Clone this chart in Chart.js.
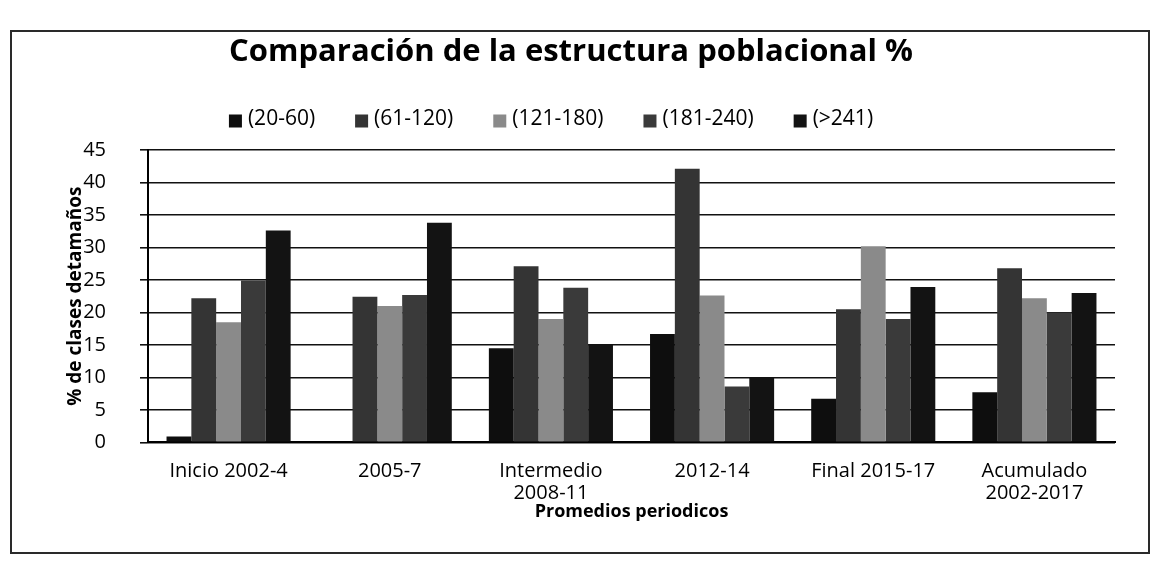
<!DOCTYPE html>
<html>
<head>
<meta charset="utf-8">
<script src="https://cdn.jsdelivr.net/npm/chart.js@4.4.0/dist/chart.umd.min.js"></script>
<style>
html,body{margin:0;padding:0;background:#fff;}
canvas{display:block;}
</style>
</head>
<body>
<canvas id="c" width="1160" height="568"></canvas>
<script>
// ---- data ----
const categories = [["Inicio 2002-4"], ["2005-7"], ["Intermedio", "2008-11"], ["2012-14"], ["Final 2015-17"], ["Acumulado", "2002-2017"]];
const seriesNames = ["(20-60)", "(61-120)", "(121-180)", "(181-240)", "(>241)"];
const s20_60   = [0.9, 0, 14.5, 16.7, 6.7, 7.7];
const s61_120  = [22.2, 22.4, 27.1, 42.1, 20.5, 26.8];
const s121_180 = [18.5, 21.0, 19.0, 22.6, 30.2, 22.2];
const s181_240 = [24.9, 22.7, 23.8, 8.6, 19.0, 20.0];
const s241     = [32.6, 33.8, 15.0, 10.0, 23.9, 23.0];
const yTickValues = [0, 5, 10, 15, 20, 25, 30, 35, 40, 45];
const chartTitle = "Comparación de la estructura poblacional %";
const yTitle = "% de clases detamaños";
const xTitle = "Promedios periodicos";

// ---- styles ----
const seriesColors = ["#0e0e0e", "#343434", "#8a8a8a", "#3a3a3a", "#131313"];
const FONT = "'Open Sans', 'DejaVu Sans', sans-serif";

const allSeries = [s20_60, s61_120, s121_180, s181_240, s241];

const decor = {
  id: 'decor',
  beforeDraw(chart) {
    const ctx = chart.ctx;
    ctx.save();
    ctx.fillStyle = '#ffffff';
    ctx.fillRect(0, 0, chart.width, chart.height);
    ctx.strokeStyle = '#2a2a2a';
    ctx.lineWidth = 2;
    ctx.strokeRect(11, 31, 1138, 522);
    ctx.restore();
  },
  afterDraw(chart) {
    const ctx = chart.ctx;
    ctx.save();
    // title
    ctx.fillStyle = '#000';
    ctx.font = "bold 31px " + FONT;
    ctx.textAlign = 'center';
    ctx.textBaseline = 'middle';
    ctx.fillText(chartTitle, 571, 52);
    // legend
    ctx.font = "21px " + FONT;
    const box = 13, gapT = 6, gapI = 40;
    const ds = chart.data.datasets;
    let total = 0;
    const widths = ds.map(d => ctx.measureText(d.label).width);
    widths.forEach(w => total += box + gapT + w);
    total += gapI * (ds.length - 1);
    let x = 551 - total / 2;
    const y = 119;
    ctx.textAlign = 'left';
    ds.forEach((d, i) => {
      ctx.fillStyle = d.backgroundColor;
      ctx.fillRect(x, y - box / 2 + 2, box, box);
      ctx.fillStyle = '#000';
      ctx.fillText(d.label, x + box + gapT, y);
      x += box + gapT + widths[i] + gapI;
    });
    ctx.restore();
  }
};

new Chart(document.getElementById('c'), {
  type: 'bar',
  data: {
    labels: categories,
    datasets: seriesNames.map((name, i) => ({
      label: name,
      data: allSeries[i],
      backgroundColor: seriesColors[i],
      borderWidth: 0,
      categoryPercentage: 0.77,
      barPercentage: 1.0
    }))
  },
  options: {
    responsive: false,
    animation: false,
    devicePixelRatio: 1,
    layout: { padding: { left: 55, right: 45, top: 150, bottom: 45 } },
    plugins: {
      legend: { display: false },
      title: { display: false },
      tooltip: { enabled: false }
    },
    scales: {
      x: {
        grid: { display: false },
        border: { display: true, color: '#000', width: 2 },
        ticks: {
          color: '#000',
          font: { family: FONT, size: 20, lineHeight: 1.1 },
          padding: 10,
          maxRotation: 0,
          autoSkip: false
        },
        title: {
          display: true,
          text: xTitle,
          color: '#000',
          font: { family: FONT, size: 18, weight: 'bold' },
          padding: { top: -13, bottom: 0 }
        }
      },
      y: {
        min: 0,
        max: 45,
        afterBuildTicks(scale) {
          scale.ticks = yTickValues.map(v => ({ value: v }));
        },
        afterFit(scale) { scale.width = 93; },
        grid: { color: '#111', lineWidth: 1.6, tickLength: 8, drawTicks: true },
        border: { display: true, color: '#000', width: 2 },
        ticks: {
          color: '#000',
          font: { family: FONT, size: 20 },
          padding: 34
        },
        title: {
          display: true,
          text: yTitle,
          color: '#000',
          font: { family: FONT, size: 19, weight: 'bold' },
          padding: { top: 9, bottom: 0 }
        }
      }
    }
  },
  plugins: [decor]
});
</script>
</body>
</html>
